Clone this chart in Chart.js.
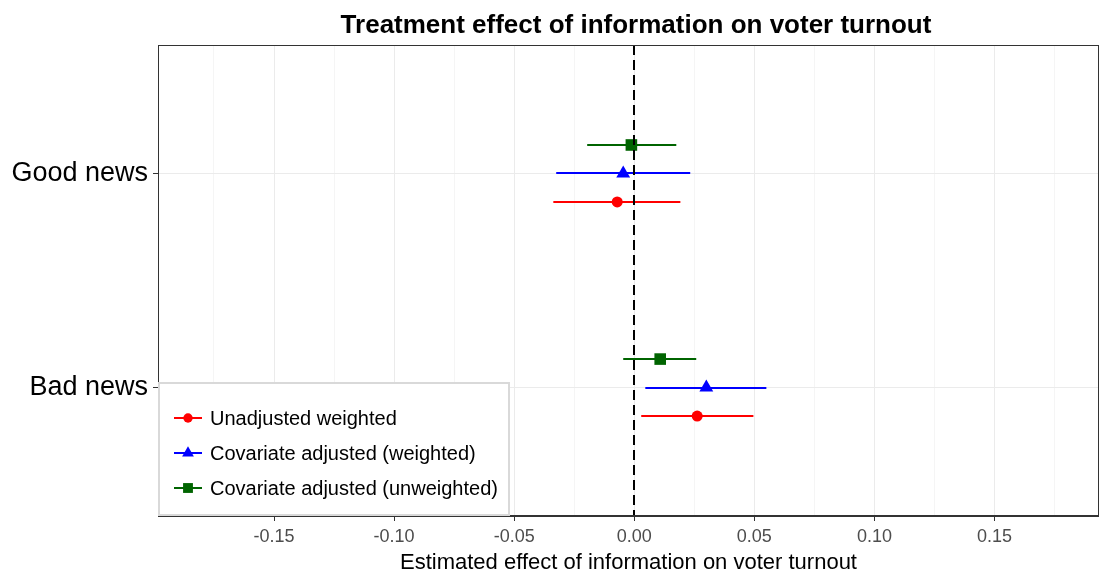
<!DOCTYPE html>
<html>
<head>
<meta charset="utf-8">
<script src="https://cdn.jsdelivr.net/npm/chart.js@4"></script>
<style>
  html, body { margin: 0; padding: 0; background: #fff; }
  #wrap { width: 1099px; height: 571px; }
</style>
</head>
<body>
<div id="wrap"><canvas id="chart" width="1099" height="571"></canvas></div>
<script>
// ---- DATA ----
const categories = ["Bad news", "Good news"];           // y = 1, 2
const seriesNames = ["Unadjusted weighted", "Covariate adjusted (weighted)", "Covariate adjusted (unweighted)"];

const unadjEst = [0.0262, -0.0071];
const unadjLo  = [0.0029, -0.0337];
const unadjHi  = [0.0496,  0.0192];

const covWEst = [0.0300, -0.0046];
const covWLo  = [0.0046, -0.0325];
const covWHi  = [0.0550,  0.0233];

const covUEst = [0.0108, -0.0012];
const covULo  = [-0.0046, -0.0196];
const covUHi  = [0.0258,  0.0175];

const xTickValues = [-0.15, -0.10, -0.05, 0.00, 0.05, 0.10, 0.15];
const xTickLabels = ["-0.15", "-0.10", "-0.05", "0.00", "0.05", "0.10", "0.15"];
const xMinorValues = [-0.175, -0.125, -0.075, -0.025, 0.025, 0.075, 0.125, 0.175];

// ---- STYLE ----
const FONT = "'Liberation Sans', Arial, sans-serif";
const DODGE = 0.133;
const styles = [
  { color: "#ff0000", shape: "circle",   r: 5.5, off: -DODGE, est: unadjEst, lo: unadjLo, hi: unadjHi },
  { color: "#0000ff", shape: "triangle", r: 8,   off: 0,      est: covWEst,  lo: covWLo,  hi: covWHi },
  { color: "#006400", shape: "rect",     r: 8.2, off: DODGE,  est: covUEst,  lo: covULo,  hi: covUHi }
];

const datasets = styles.map((s, i) => ({
  label: seriesNames[i],
  data: categories.map((c, k) => ({ x: s.est[k], y: k + 1 + s.off, lo: s.lo[k], hi: s.hi[k] })),
  pointStyle: s.shape,
  pointRadius: s.r,
  backgroundColor: s.color,
  borderColor: s.color,
  borderWidth: 0,
  showLine: false
}));

// ---- PLUGINS ----
const errorBars = {
  id: "errorBars",
  beforeDatasetsDraw(chart) {
    const { ctx, scales: { x, y } } = chart;
    ctx.save();
    ctx.lineWidth = 2;
    chart.data.datasets.forEach(ds => {
      ctx.strokeStyle = ds.borderColor;
      ds.data.forEach(p => {
        const py = Math.round(y.getPixelForValue(p.y));
        ctx.beginPath();
        ctx.moveTo(x.getPixelForValue(p.lo), py);
        ctx.lineTo(x.getPixelForValue(p.hi), py);
        ctx.stroke();
      });
    });
    ctx.restore();
  }
};

const overlay = {
  id: "overlay",
  afterDatasetsDraw(chart) {
    const { ctx, chartArea: a, scales: { x } } = chart;
    ctx.save();
    // zero line
    const zx = Math.round(x.getPixelForValue(0));
    ctx.strokeStyle = "#000";
    ctx.lineWidth = 2;
    ctx.setLineDash([10, 5]);
    ctx.beginPath();
    ctx.moveTo(zx, a.top);
    ctx.lineTo(zx, a.bottom);
    ctx.stroke();
    ctx.setLineDash([]);

    // panel border
    ctx.strokeStyle = "#333";
    ctx.lineWidth = 1;
    ctx.strokeRect(a.left + 0.5, a.top + 0.5, a.right - a.left - 1, a.bottom - a.top - 1);

    // title
    ctx.fillStyle = "#000";
    ctx.font = "bold 26px " + FONT;
    ctx.textAlign = "center";
    ctx.textBaseline = "middle";
    ctx.fillText("Treatment effect of information on voter turnout", 636, 26);

    // legend box
    const lx = a.left, ly = 382, lw = 352, lh = a.bottom - ly;
    ctx.fillStyle = "#fff";
    ctx.fillRect(lx, ly, lw, lh);
    ctx.strokeStyle = "#d9d9d9";
    ctx.lineWidth = 2;
    ctx.strokeRect(lx + 1, ly + 1, lw - 2, lh - 2);

    ctx.font = "20px " + FONT;
    ctx.textAlign = "left";
    ctx.textBaseline = "middle";
    chart.data.datasets.forEach((ds, i) => {
      const cy = 418 + i * 35;
      ctx.strokeStyle = ds.borderColor;
      ctx.lineWidth = 2;
      ctx.beginPath();
      ctx.moveTo(174, cy);
      ctx.lineTo(202, cy);
      ctx.stroke();
      ctx.fillStyle = ds.backgroundColor;
      Chart.helpers.drawPoint(ctx, { pointStyle: ds.pointStyle, radius: ds.pointRadius * 0.85, rotation: 0, borderWidth: 0 }, 188, cy);
      ctx.fillStyle = "#000";
      ctx.fillText(ds.label, 210, cy + 1);
    });
    ctx.restore();
  }
};

// ---- CHART ----
const allXTicks = xTickValues.concat(xMinorValues).sort((a, b) => a - b);
const isMajor = v => xTickValues.some(t => Math.abs(t - v) < 1e-9);

new Chart(document.getElementById("chart"), {
  type: "scatter",
  data: { datasets },
  options: {
    responsive: false,
    animation: false,
    layout: { autoPadding: false, padding: { top: 45, right: 0, left: 0, bottom: 0 } },
    plugins: { legend: { display: false }, title: { display: false }, tooltip: { enabled: false } },
    scales: {
      x: {
        type: "linear",
        min: -0.1983,
        max: 0.1935,
        afterBuildTicks: s => { s.ticks = allXTicks.map(v => ({ value: v })); },
        afterFit: s => { s.height = 55; s.paddingLeft = 0; s.paddingRight = 0; },
        ticks: {
          autoSkip: false,
          maxRotation: 0,
          padding: 5,
          color: "#4d4d4d",
          font: { family: FONT, size: 18 },
          callback: v => {
            const i = xTickValues.findIndex(t => Math.abs(t - v) < 1e-9);
            return i >= 0 ? xTickLabels[i] : "";
          }
        },
        grid: {
          color: c => (isMajor(c.tick.value) ? "#ebebeb" : "#f5f5f5"),
          tickColor: c => (isMajor(c.tick.value) ? "#333" : "rgba(0,0,0,0)"),
          tickLength: 5,
          lineWidth: 1
        },
        border: { display: true, color: "#333", width: 1 },
        title: {
          display: true,
          text: "Estimated effect of information on voter turnout",
          color: "#000",
          font: { family: FONT, size: 22, lineHeight: 1 },
          padding: { top: 0, bottom: -3 }
        }
      },
      y: {
        type: "linear",
        min: 0.4,
        max: 2.6,
        afterBuildTicks: s => { s.ticks = categories.map((c, k) => ({ value: k + 1 })); },
        afterFit: s => { s.width = 158; s.paddingTop = 0; s.paddingBottom = 0; },
        ticks: {
          autoSkip: false,
          padding: 5,
          color: "#000",
          font: { family: FONT, size: 27 },
          callback: v => categories[v - 1]
        },
        grid: { color: "#ebebeb", tickColor: "#333", tickLength: 5, lineWidth: 1 },
        border: { display: true, color: "#333", width: 1 }
      }
    }
  },
  plugins: [errorBars, overlay]
});
</script>
</body>
</html>
